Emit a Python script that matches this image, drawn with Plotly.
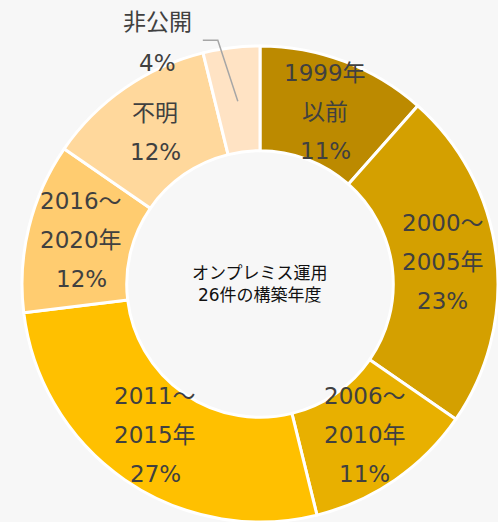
import math
import plotly.graph_objects as go

categories = ["1999年以前", "2000～2005年", "2006～2010年", "2011～2015年",
              "2016～2020年", "不明", "非公開"]
label_lines = [["1999年", "以前"], ["2000～", "2005年"], ["2006～", "2010年"],
               ["2011～", "2015年"], ["2016～", "2020年"], ["不明"], ["非公開"]]
counts = [3, 6, 3, 7, 3, 3, 1]          # 26 systems in total
pct_labels = ["11%", "23%", "11%", "27%", "12%", "12%", "4%"]
colors = ["#BC8A00", "#D4A000", "#E8B000", "#FFC000", "#FFCC70", "#FFD89C", "#FFE3C4"]
center_text = "オンプレミス運用<br>26件の構築年度"

W, H = 498, 522
CX, CY, R = 260, 284, 238     # pixel geometry of the donut
HOLE = 0.56
LABEL_R = 184
LINE_GAP = 39
FONT = "DejaVu Sans, Noto Sans CJK JP, sans-serif"
TXT = "#404040"

fig = go.Figure(go.Pie(
    labels=categories, values=counts, sort=False, direction="clockwise",
    rotation=0, hole=HOLE, textinfo="none", hoverinfo="label+value",
    marker=dict(colors=colors, line=dict(color="white", width=3)),
    domain=dict(x=[(CX - R) / W, (CX + R) / W], y=[(H - CY - R) / H, (H - CY + R) / H]),
    showlegend=False,
))

def to_paper(px, py):
    return px / W, 1 - py / H

annotations = []
shapes = []
total = sum(counts)
cum = 0
for i, (lines, v) in enumerate(zip(label_lines, counts)):
    frac_mid = (cum + v / 2) / total
    cum += v
    ang = 2 * math.pi * frac_mid
    px = CX + LABEL_R * math.sin(ang)
    py = CY - LABEL_R * math.cos(ang)
    texts = lines + [pct_labels[i]]
    if categories[i] == "非公開":
        # outside label with leader line
        ex, ey = px - 20, py - 61
        fx, fy = ex - 15, ey
        x0, y0 = to_paper(px, py)
        x1, y1 = to_paper(ex, ey)
        x2, y2 = to_paper(fx, fy)
        shapes.append(dict(type="path", xref="paper", yref="paper",
                           path=f"M {x0} {y0} L {x1} {y1} L {x2} {y2}",
                           line=dict(color="#A6A6A6", width=1.5)))
        lx, ly = fx - 45, fy
        offs = [-18, 23]
        for t, o in zip(texts, offs):
            ax, ay = to_paper(lx, ly + o)
            annotations.append(dict(x=ax, y=ay, xref="paper", yref="paper", text=t,
                                    showarrow=False, xanchor="center", yanchor="middle",
                                    font=dict(family=FONT, size=23, color=TXT)))
        continue
    n = len(texts)
    ax, ay = to_paper(px, py)
    for j, t in enumerate(texts):
        annotations.append(dict(x=ax, y=ay, xref="paper", yref="paper", text=t,
                                showarrow=False, xanchor="center", yanchor="middle",
                                yshift=((n - 1) / 2 - j) * LINE_GAP,
                                font=dict(family=FONT, size=23, color=TXT)))

cx, cy = to_paper(CX, CY)
annotations.append(dict(x=cx, y=cy, xref="paper", yref="paper", text=center_text,
                        showarrow=False, xanchor="center", yanchor="middle",
                        font=dict(family=FONT, size=17, color="#111111")))

fig.update_layout(width=W, height=H, margin=dict(l=0, r=0, t=0, b=0),
                  paper_bgcolor="#F7F7F7", plot_bgcolor="#F7F7F7",
                  annotations=annotations, shapes=shapes)
fig.write_html("out.html", config={"displayModeBar": False},
               post_script="document.body.style.margin='0';document.body.style.overflow='hidden';")
